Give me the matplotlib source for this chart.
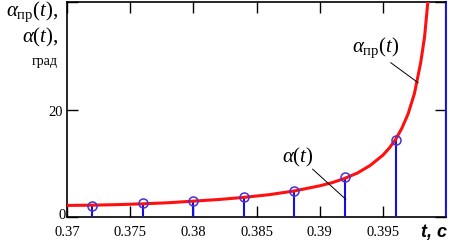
import matplotlib
matplotlib.use("Agg")
import matplotlib.pyplot as plt
import numpy as np

plt.rcParams['mathtext.fontset'] = 'custom'
plt.rcParams['mathtext.rm'] = 'Liberation Serif'
plt.rcParams['mathtext.it'] = 'Liberation Serif:italic'
plt.rcParams['font.family'] = 'Liberation Serif'

# curve alpha_pr(t)
t_curve = [0.370, 0.372, 0.374, 0.376, 0.378, 0.380, 0.382, 0.384, 0.386, 0.388,
           0.390, 0.391, 0.392, 0.393, 0.394, 0.395, 0.3955, 0.396, 0.3965,
           0.397, 0.3975, 0.398, 0.3983, 0.3986, 0.3988]
a_curve = [2.15, 2.2, 2.3, 2.45, 2.65, 2.95, 3.25, 3.65, 4.15, 4.85,
           5.8, 6.4, 7.2, 8.2, 9.6, 11.5, 12.8, 14.4, 16.5,
           19.2, 23.0, 28.8, 33.5, 41.0, 48.0]

# sampled alpha(t)
t_stem = [0.372, 0.376, 0.380, 0.384, 0.388, 0.392, 0.396, 0.400]
a_stem = [2.0, 2.6, 3.0, 3.8, 4.9, 7.4, 14.4, 1000.0]

xticks = [0.37, 0.375, 0.38, 0.385, 0.39, 0.395]
xticklabels = ['0.37', '0.375', '0.38', '0.385', '0.39', '0.395']

fig = plt.figure(figsize=(4.51, 2.51), dpi=100)
ax = fig.add_axes([0.1486, 0.1315, 0.8404, 0.8565])

ax.vlines(t_stem, 0, a_stem, colors='#1010e0', linewidth=1.5, zorder=3)
ax.plot(t_curve, a_curve, color='#ff1010', linewidth=2.2, zorder=4)
ax.plot(t_stem[:-1], a_stem[:-1], 'o', mfc='none', mec='#4a30d0', ms=6.5, mew=1.1, zorder=5)

ax.set_xlim(0.37, 0.4)
ax.set_ylim(0, 40)
ax.set_xticks(xticks)
ax.set_xticklabels(xticklabels, fontsize=10.5)
ax.set_yticks([0, 20, 40])
ax.set_yticklabels(['', '20', ''], fontsize=10.5)
ax.tick_params(direction='in', length=8, width=1, top=True, right=True)
ax.tick_params(axis='x', pad=6)
ax.tick_params(axis='y', pad=3)
for s in ax.spines.values():
    s.set_linewidth(1.2)
# the last stem (t = 0.4) runs along the right border
ax.spines['right'].set_color('#2020e0')
ax.spines['right'].set_linewidth(1.5)

# "0" sits a little above the corner
ax.text(-0.004, 0.012, '0', transform=ax.transAxes, fontsize=10.5, ha='right', va='center')

# annotations
ax.text(0.39444, 31.7, r'$\alpha_{\mathrm{пр}}(t)$', fontsize=15, ha='center', va='center')
ax.plot([0.39563, 0.39778], [28.7, 25.0], color='black', lw=0.7, zorder=6)
ax.text(0.38825, 11.3, r'$\alpha(t)$', fontsize=15, ha='center', va='center')
ax.plot([0.38944, 0.39206], [8.9, 3.3], color='black', lw=0.7, zorder=6)

# axis labels
fig.text(0.13, 0.955, r'$\alpha_{\mathrm{пр}}(t),$', fontsize=15, ha='right', va='center')
fig.text(0.13, 0.852, r'$\alpha(t),$', fontsize=15, ha='right', va='center')
fig.text(0.127, 0.755, 'град', fontsize=10, ha='right', va='center')
fig.text(0.963, 0.075, 't, с', fontsize=13, ha='center', va='center',
         family='Liberation Sans', weight='bold', style='italic')

fig.savefig('out.png', dpi=100)
